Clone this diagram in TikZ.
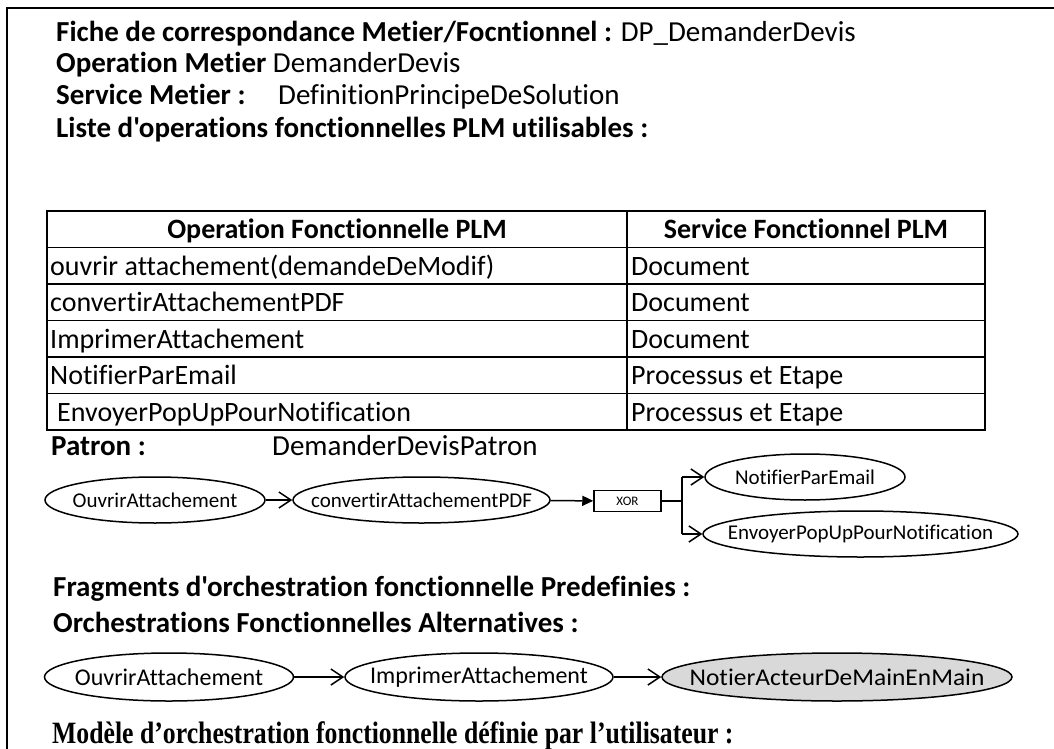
\documentclass[tikz,border=0pt]{standalone}
\usepackage{fontspec}
\setmainfont{Carlito}[Ligatures={TeXOff,CommonOff}]
\newfontfamily\modelfont{Liberation Serif}
\usetikzlibrary{shapes.geometric,arrows.meta}
\tikzset{
  btxt/.style={anchor=base west, inner sep=0pt, font=\fontsize{29}{34}\selectfont\bfseries},
  rtxt/.style={anchor=base west, inner sep=0pt, font=\fontsize{29}{34}\selectfont},
  cellh/.style={anchor=base, inner sep=0pt, font=\fontsize{28}{33}\selectfont\bfseries},
  cell/.style={anchor=base west, inner sep=0pt, font=\fontsize{28}{33}\selectfont},
  oval/.style={ellipse, draw, line width=1.5pt, inner sep=0pt, minimum height=46pt},
  ptext/.style={font=\fontsize{21}{24}\selectfont},
  atext/.style={font=\fontsize{24}{27}\selectfont, minimum height=48pt},
  openarr/.style={line width=1.5pt, -{Straight Barb[length=12pt,width=16pt,line width=1.5pt]}},
  fillarr/.style={line width=1.5pt, -{Triangle[length=11pt,width=10pt]}},
  conn/.style={line width=1.5pt},
  tbl/.style={line width=1.4pt},
}
\newcommand{\zw}[1]{\makebox[0pt][c]{#1}}
\begin{document}
\begin{tikzpicture}[x=1pt,y=-1pt]
\useasboundingbox (0,0) rectangle (1054,749);
\fill[white] (0,0) rectangle (1054,749);
% frame
\draw[line width=2.6pt, line join=miter] (7,749) -- (7,8) -- (1054,8);

% header lines
\node[btxt] (l1) at (56,42) {Fiche de correspondance Metier/Focntionnel : \mdseries DP\_DemanderDevis};
\node[btxt] (l2) at (56,73) {Operation Metier \mdseries DemanderDevis};
\node[btxt] (l3a) at (56,105) {Service Metier :};
\node[rtxt] (l3b) at (278,105) {DefinitionPrincipeDeSolution};
\node[btxt] (l4) at (56,137) {Liste d'operations fonctionnelles PLM utilisables :};

% table
\draw[tbl] (47,211) rectangle (985,430);
\draw[tbl] (627,211) -- (627,430);
\foreach \yy in {247.5,284,320.5,357,393.5} \draw[tbl] (47,\yy) -- (985,\yy);
\node[cellh] (h1) at (337,238) {Operation Fonctionnelle PLM};
\node[cellh] (h2) at (806,238) {Service Fonctionnel PLM};
\node[cell] (r1a) at (50,275) {ouvrir attachement(demandeDeModif)};
\node[cell] (r1b) at (631,275) {Document};
\node[cell] (r2a) at (50,311) {convertirAttachementPDF};
\node[cell] (r2b) at (631,311) {Document};
\node[cell] (r3a) at (50,348) {ImprimerAttachement};
\node[cell] (r3b) at (631,348) {Document};
\node[cell] (r4a) at (50,384) {NotifierParEmail};
\node[cell] (r4b) at (631,384) {Processus et Etape};
\node[cell] (r5a) at (57,421) {EnvoyerPopUpPourNotification};
\node[cell] (r5b) at (631,421) {Processus et Etape};

% patron
\node[btxt] (pat) at (51,455) {Patron :};
\node[rtxt] (patn) at (272,455) {DemanderDevisPatron};

\node[oval, ptext, minimum width=220pt] (p1) at (155,500) {\zw{OuvrirAttachement}};
\node[oval, ptext, minimum width=257pt] (p2) at (421.5,500) {\zw{convertirAttachementPDF}};
\node[draw, line width=1.5pt, minimum width=67pt, minimum height=21pt, inner sep=0pt,
      font=\fontsize{13}{15}\selectfont] (xor) at (627.5,501) {XOR};
\node[oval, ptext, minimum width=200pt] (p3) at (805,477) {\zw{NotifierParEmail}};
\node[oval, ptext, minimum width=315pt] (p4) at (860.5,534) {\zw{EnvoyerPopUpPourNotification}};
\coordinate (j) at (682,501);
\coordinate (jt) at (682,477);
\coordinate (jb) at (682,534);
\draw[openarr] (p1) -- (p2);
\draw[fillarr] (p2) -- (xor);
\draw[line width=2.2pt] (xor.east) -- (j);
\draw[conn] (jt) -- (jb);
\draw[openarr] (jt) -- (p3.west);
\draw[openarr] (jb) -- (p4.west);

% fragments
\node[btxt] (frag) at (53,596) {Fragments d'orchestration fonctionnelle Predefinies :};
\node[btxt] (orch) at (53,632) {Orchestrations Fonctionnelles Alternatives :};

\node[oval, atext, minimum width=249pt] (a1) at (169,677) {\zw{OuvrirAttachement}};
\node[oval, atext, minimum width=268pt] (a2) at (479,677) {\zw{ImprimerAttachement}};
\node[oval, atext, minimum width=350pt, fill={rgb,255:red,217;green,217;blue,217}] (a3) at (837,677) {\zw{\scalebox{1.06}[1]{NotierActeurDeMainEnMain}}};
\draw[openarr] (a1) -- (a2);
\draw[openarr] (a2) -- (a3);

% model
\node[anchor=base west, inner sep=0pt, font=\modelfont\fontsize{31}{35}\selectfont\bfseries] (mod) at (52,743)
  {\scalebox{0.83}[1]{Modèle d’orchestration fonctionnelle définie par l’utilisateur :}};
\end{tikzpicture}
\end{document}
